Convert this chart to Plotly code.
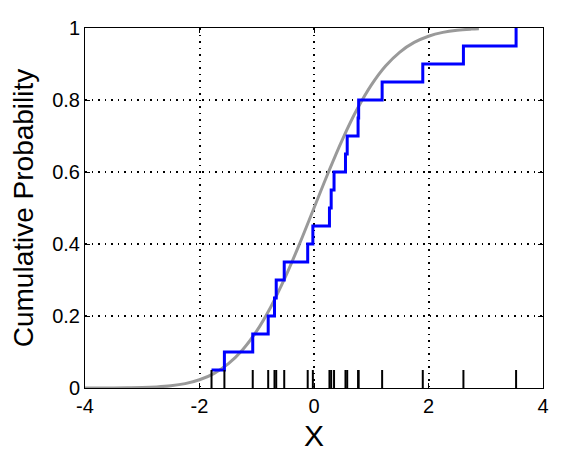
import plotly.graph_objects as go

# Sample values (read from rug / ECDF steps)
samples = [-1.79, -1.565, -1.07, -0.80, -0.69, -0.66, -0.52, -0.11, -0.02,
           0.27, 0.30, 0.35, 0.55, 0.58, 0.77, 0.78, 1.19, 1.90, 2.61, 3.53]

# Reference (gray) CDF curve
ref_x = [-4.0, -3.75, -3.5, -3.25, -3.0, -2.75, -2.5, -2.25, -2.0, -1.75, -1.5,
         -1.25, -1.0, -0.75, -0.5, -0.25, 0.0, 0.25, 0.5, 0.75, 1.0, 1.25,
         1.5, 1.75, 2.0, 2.25, 2.5, 2.75, 2.88]
ref_y = [0.0000, 0.0001, 0.0002, 0.0006, 0.0013, 0.0030, 0.0062, 0.0122,
         0.0228, 0.0401, 0.0668, 0.1056, 0.1587, 0.2266, 0.3085, 0.4013,
         0.5000, 0.5987, 0.6915, 0.7734, 0.8413, 0.8944, 0.9332, 0.9599,
         0.9772, 0.9878, 0.9938, 0.9970, 0.9980]

x_ticks = [-4, -2, 0, 2, 4]
y_ticks = [0, 0.2, 0.4, 0.6, 0.8, 1]
y_tick_labels = ["0", "0.2", "0.4", "0.6", "0.8", "1"]
rug_height = 0.05

srt = sorted(samples)
n = len(srt)
ecdf_y = [(i + 1) / n for i in range(n)]

rug_x, rug_y = [], []
for v in srt:
    rug_x += [v, v, None]
    rug_y += [0, rug_height, None]

FONT = "Liberation Sans, Arial"

fig = go.Figure()
fig.add_trace(go.Scatter(x=ref_x, y=ref_y, mode="lines",
                         line=dict(color="#9a9a9a", width=3, shape="spline"),
                         hoverinfo="skip"))
fig.add_trace(go.Scatter(x=srt, y=ecdf_y, mode="lines",
                         line=dict(color="#0000ff", width=3, shape="hv")))
fig.add_trace(go.Scatter(x=rug_x, y=rug_y, mode="lines",
                         line=dict(color="black", width=2)))

axis_common = dict(showline=True, linecolor="black", linewidth=1, mirror="ticks",
                   ticks="inside", ticklen=5, tickcolor="black",
                   showgrid=True, gridcolor="black", griddash="1.5px,5px", gridwidth=1.5,
                   zeroline=False, automargin=False,
                   tickfont=dict(family=FONT, size=20, color="black"))

fig.update_xaxes(range=[-4, 4], tickvals=x_ticks, ticktext=[str(t) for t in x_ticks],
                 title=dict(text="X", font=dict(family=FONT, size=30, color="black"),
                            standoff=8),
                 **axis_common)
fig.update_yaxes(range=[0, 1], tickvals=y_ticks, ticktext=y_tick_labels,
                 title=dict(text="Cumulative Probability",
                            font=dict(family=FONT, size=28, color="black"),
                            standoff=12),
                 **axis_common)

# page body adds an 8px offset; figure sized to fit the window
fig.update_layout(width=568, height=446, showlegend=False,
                  plot_bgcolor="white", paper_bgcolor="white",
                  margin=dict(l=77, r=33, t=20, b=66))

fig.write_html("out.html")
